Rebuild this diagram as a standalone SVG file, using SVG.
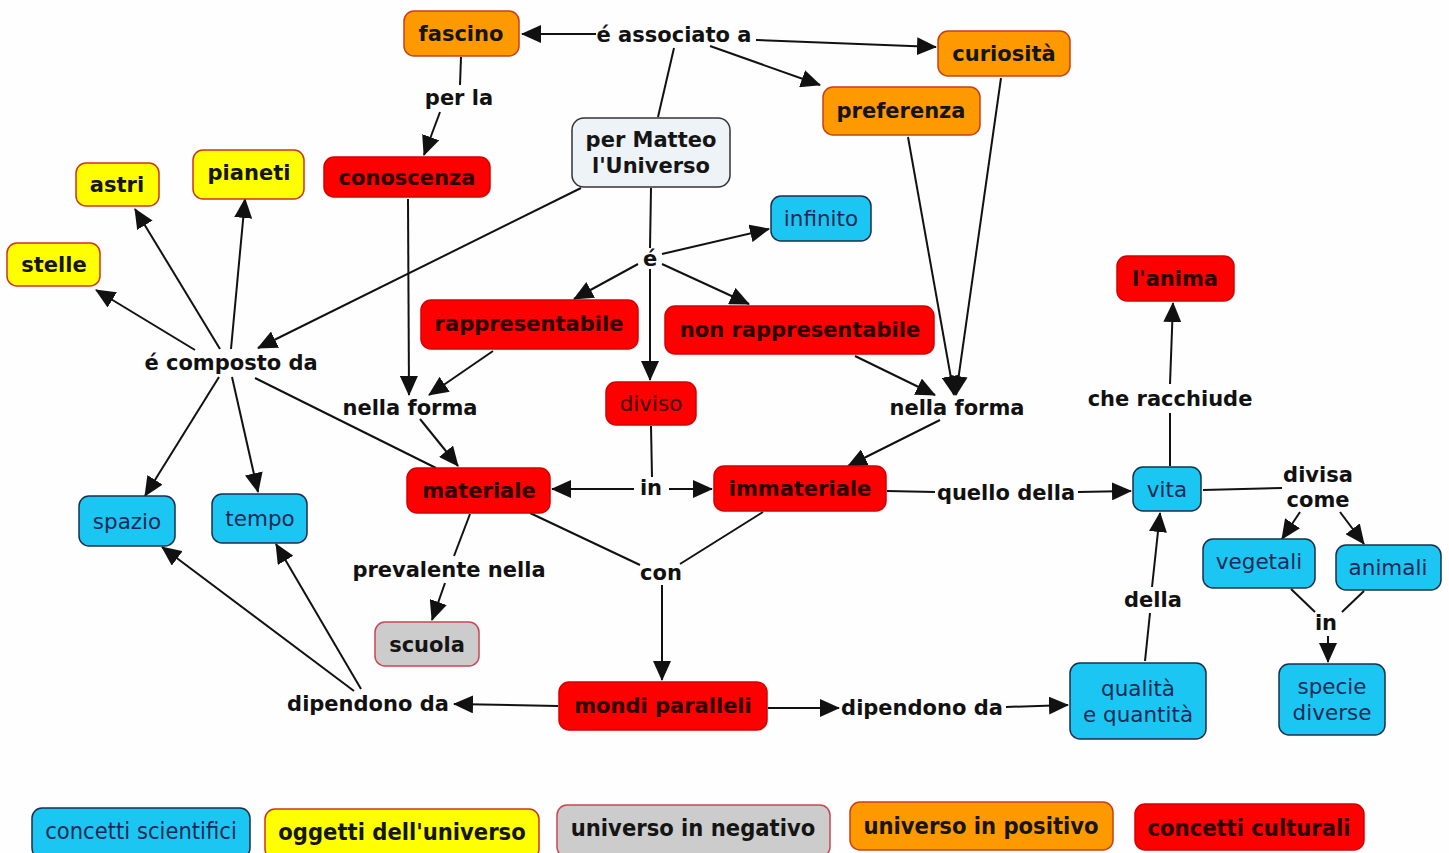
<svg xmlns="http://www.w3.org/2000/svg" width="1449" height="853" viewBox="0 0 1449 853">
<defs>
<style>
.bg{fill:#fefefe}
.o{fill:#ff9900;stroke:#c8401a;stroke-width:1.5}
.y{fill:#ffff00;stroke:#cc3322;stroke-width:1.5}
.r{fill:#ff0000;stroke:#d40000;stroke-width:1.5}
.bl{fill:#1cc6f3;stroke:#1c2f4a;stroke-width:1.5}
.g{fill:#cccccc;stroke:#cc4455;stroke-width:1.5}
.w{fill:#eef3f7;stroke:#333;stroke-width:1.5}
text{font-family:"DejaVu Sans",Verdana,sans-serif;font-size:21px;text-anchor:middle}
.tb{font-weight:bold;fill:#151515}
.tr{font-weight:bold;fill:#2a0000}
.tn{fill:#1b2a55;font-size:21.5px}
.lk{font-weight:bold;fill:#111}
.lg{font-family:"DejaVu Sans Condensed","DejaVu Sans",sans-serif;font-size:23.5px}
#links line,#links path{stroke:#111;stroke-width:2;fill:none}
.a{marker-end:url(#ah)}
</style>
<marker id="ah" markerUnits="userSpaceOnUse" markerWidth="20" markerHeight="18" refX="19" refY="9" orient="auto">
<path d="M0,0 L20,9 L0,18 z" fill="#111"/>
</marker>
</defs>
<rect class="bg" x="0" y="0" width="1449" height="853"/>

<g id="links">
<line class="a" x1="596" y1="34" x2="522" y2="34"/>
<line class="a" x1="756" y1="40" x2="936" y2="47"/>
<line class="a" x1="710" y1="46" x2="820" y2="85"/>
<line x1="658" y1="117" x2="674" y2="48"/>
<line x1="461" y1="57" x2="460" y2="85"/>
<line class="a" x1="440" y1="112" x2="424" y2="155"/>
<line class="a" x1="581" y1="188" x2="258" y2="348"/>
<line x1="651" y1="188" x2="650" y2="248"/>
<line class="a" x1="662" y1="254" x2="769" y2="229"/>
<line class="a" x1="638" y1="264" x2="574" y2="299"/>
<line class="a" x1="662" y1="264" x2="749" y2="304"/>
<line class="a" x1="650" y1="269" x2="650" y2="380"/>
<line x1="651" y1="426" x2="652" y2="477"/>
<line class="a" x1="634" y1="489" x2="552" y2="489"/>
<line class="a" x1="669" y1="489" x2="712" y2="489"/>
<line class="a" x1="408" y1="199" x2="409" y2="395"/>
<line class="a" x1="493" y1="351" x2="429" y2="395"/>
<line class="a" x1="420" y1="419" x2="458" y2="466"/>
<line class="a" x1="855" y1="356" x2="935" y2="395"/>
<line class="a" x1="908" y1="137" x2="954" y2="395"/>
<line class="a" x1="1001" y1="78" x2="956" y2="395"/>
<line class="a" x1="940" y1="420" x2="848" y2="466"/>
<line class="a" x1="195" y1="350" x2="96" y2="290"/>
<line class="a" x1="220" y1="349" x2="135" y2="209"/>
<line class="a" x1="231" y1="349" x2="245" y2="199"/>
<line class="a" x1="219" y1="377" x2="145" y2="496"/>
<line class="a" x1="232" y1="377" x2="258" y2="492"/>
<line x1="255" y1="378" x2="436" y2="468"/>
<line x1="530" y1="513" x2="640" y2="565"/>
<line x1="763" y1="512" x2="680" y2="564"/>
<line class="a" x1="662" y1="585" x2="662" y2="680"/>
<line x1="470" y1="514" x2="454" y2="556"/>
<line class="a" x1="445" y1="583" x2="432" y2="620"/>
<line class="a" x1="558" y1="706" x2="454" y2="704"/>
<line class="a" x1="354" y1="691" x2="162" y2="547"/>
<line class="a" x1="361" y1="689" x2="276" y2="544"/>
<line class="a" x1="768" y1="708" x2="839" y2="708"/>
<line class="a" x1="1006" y1="707" x2="1068" y2="705"/>
<line x1="887" y1="491" x2="935" y2="492"/>
<line class="a" x1="1078" y1="492" x2="1131" y2="491"/>
<line x1="1145" y1="661" x2="1150" y2="613"/>
<line class="a" x1="1152" y1="587" x2="1160" y2="513"/>
<line x1="1170" y1="466" x2="1170" y2="413"/>
<line class="a" x1="1170" y1="384" x2="1173" y2="303"/>
<line x1="1203" y1="490" x2="1282" y2="488"/>
<line class="a" x1="1300" y1="512" x2="1282" y2="539"/>
<line class="a" x1="1340" y1="512" x2="1364" y2="544"/>
<line x1="1291" y1="589" x2="1315" y2="612"/>
<line x1="1364" y1="591" x2="1342" y2="612"/>
<line class="a" x1="1328" y1="636" x2="1328" y2="662"/>
</g>

<g id="labels">
<text class="lk" x="674" y="42">é associato a</text>
<text class="lk" x="459" y="105">per la</text>
<text class="lk" x="231" y="370">é composto da</text>
<text class="lk" x="650" y="266">é</text>
<text class="lk" x="410" y="415">nella forma</text>
<text class="lk" x="957" y="415">nella forma</text>
<text class="lk" x="651" y="495">in</text>
<text class="lk" x="1006" y="500">quello della</text>
<text class="lk" x="1170" y="406">che racchiude</text>
<text class="lk" x="1318" y="482">divisa</text>
<text class="lk" x="1318" y="507">come</text>
<text class="lk" x="1153" y="607">della</text>
<text class="lk" x="1326" y="630">in</text>
<text class="lk" x="661" y="580">con</text>
<text class="lk" x="449" y="577">prevalente nella</text>
<text class="lk" x="368" y="711">dipendono da</text>
<text class="lk" x="922" y="715">dipendono da</text>
</g>

<g id="n-fascino"><rect class="o" x="404" y="11" width="115" height="45" rx="10"/><text class="tb" x="461" y="41">fascino</text></g>
<g id="n-curiosita"><rect class="o" x="938" y="31" width="132" height="45" rx="10"/><text class="tb" x="1004" y="61">curiosità</text></g>
<g id="n-preferenza"><rect class="o" x="823" y="87" width="157" height="48" rx="10"/><text class="tb" x="901" y="118">preferenza</text></g>
<g id="n-matteo"><rect class="w" x="572" y="118" width="158" height="69" rx="12"/><text class="tb" x="651" y="147">per Matteo</text><text class="tb" x="651" y="173">l'Universo</text></g>
<g id="n-conoscenza"><rect class="r" x="324" y="157" width="166" height="40" rx="10"/><text class="tr" x="407" y="185">conoscenza</text></g>
<g id="n-astri"><rect class="y" x="76" y="163" width="83" height="43" rx="10"/><text class="tb" x="117" y="192">astri</text></g>
<g id="n-pianeti"><rect class="y" x="193" y="150" width="111" height="49" rx="10"/><text class="tb" x="249" y="180">pianeti</text></g>
<g id="n-stelle"><rect class="y" x="7" y="243" width="93" height="43" rx="10"/><text class="tb" x="54" y="272">stelle</text></g>
<g id="n-infinito"><rect class="bl" x="771" y="196" width="100" height="45" rx="10"/><text class="tn" x="821" y="226">infinito</text></g>
<g id="n-rappresentabile"><rect class="r" x="421" y="300" width="217" height="49" rx="10"/><text class="tr" x="529" y="331">rappresentabile</text></g>
<g id="n-nonrapp"><rect class="r" x="665" y="306" width="269" height="48" rx="10"/><text class="tr" x="800" y="337">non rappresentabile</text></g>
<g id="n-diviso"><rect class="r" x="606" y="382" width="90" height="43" rx="10"/><text class="tn" x="651" y="411" style="fill:#3a0000">diviso</text></g>
<g id="n-anima"><rect class="r" x="1117" y="256" width="117" height="45" rx="10"/><text class="tr" x="1175" y="286">l'anima</text></g>
<g id="n-materiale"><rect class="r" x="407" y="468" width="143" height="45" rx="10"/><text class="tr" x="479" y="498">materiale</text></g>
<g id="n-immateriale"><rect class="r" x="714" y="466" width="172" height="45" rx="10"/><text class="tr" x="800" y="496">immateriale</text></g>
<g id="n-spazio"><rect class="bl" x="79" y="496" width="96" height="50" rx="10"/><text class="tn" x="127" y="529">spazio</text></g>
<g id="n-tempo"><rect class="bl" x="212" y="494" width="95" height="49" rx="10"/><text class="tn" x="260" y="526">tempo</text></g>
<g id="n-vita"><rect class="bl" x="1133" y="467" width="68" height="44" rx="10"/><text class="tn" x="1167" y="497">vita</text></g>
<g id="n-vegetali"><rect class="bl" x="1203" y="539" width="112" height="49" rx="10"/><text class="tn" x="1259" y="569">vegetali</text></g>
<g id="n-animali"><rect class="bl" x="1336" y="545" width="105" height="45" rx="10"/><text class="tn" x="1388" y="575">animali</text></g>
<g id="n-scuola"><rect class="g" x="375" y="622" width="104" height="44" rx="10"/><text class="tb" x="427" y="652">scuola</text></g>
<g id="n-mondi"><rect class="r" x="559" y="682" width="208" height="48" rx="10"/><text class="tr" x="663" y="713">mondi paralleli</text></g>
<g id="n-qualita"><rect class="bl" x="1070" y="663" width="136" height="76" rx="10"/><text class="tn" x="1138" y="696">qualità</text><text class="tn" x="1138" y="722">e quantità</text></g>
<g id="n-specie"><rect class="bl" x="1279" y="664" width="106" height="71" rx="10"/><text class="tn" x="1332" y="694">specie</text><text class="tn" x="1332" y="720">diverse</text></g>

<g id="legend">
<g id="lg-scientifici"><rect class="bl" x="32" y="808" width="218" height="50" rx="10"/><text class="tn lg" x="141" y="839">concetti scientifici</text></g>
<g id="lg-oggetti"><rect class="y" x="265" y="809" width="274" height="50" rx="10"/><text class="tb lg" x="402" y="840">oggetti dell'universo</text></g>
<g id="lg-negativo"><rect class="g" x="557" y="805" width="273" height="52" rx="10"/><text class="tb lg" x="693" y="836">universo in negativo</text></g>
<g id="lg-positivo"><rect class="o" x="850" y="802" width="263" height="48" rx="10"/><text class="tb lg" x="981" y="834">universo in positivo</text></g>
<g id="lg-culturali"><rect class="r" x="1135" y="804" width="229" height="46" rx="10"/><text class="tr lg" x="1249" y="836">concetti culturali</text></g>
</g>
</svg>
